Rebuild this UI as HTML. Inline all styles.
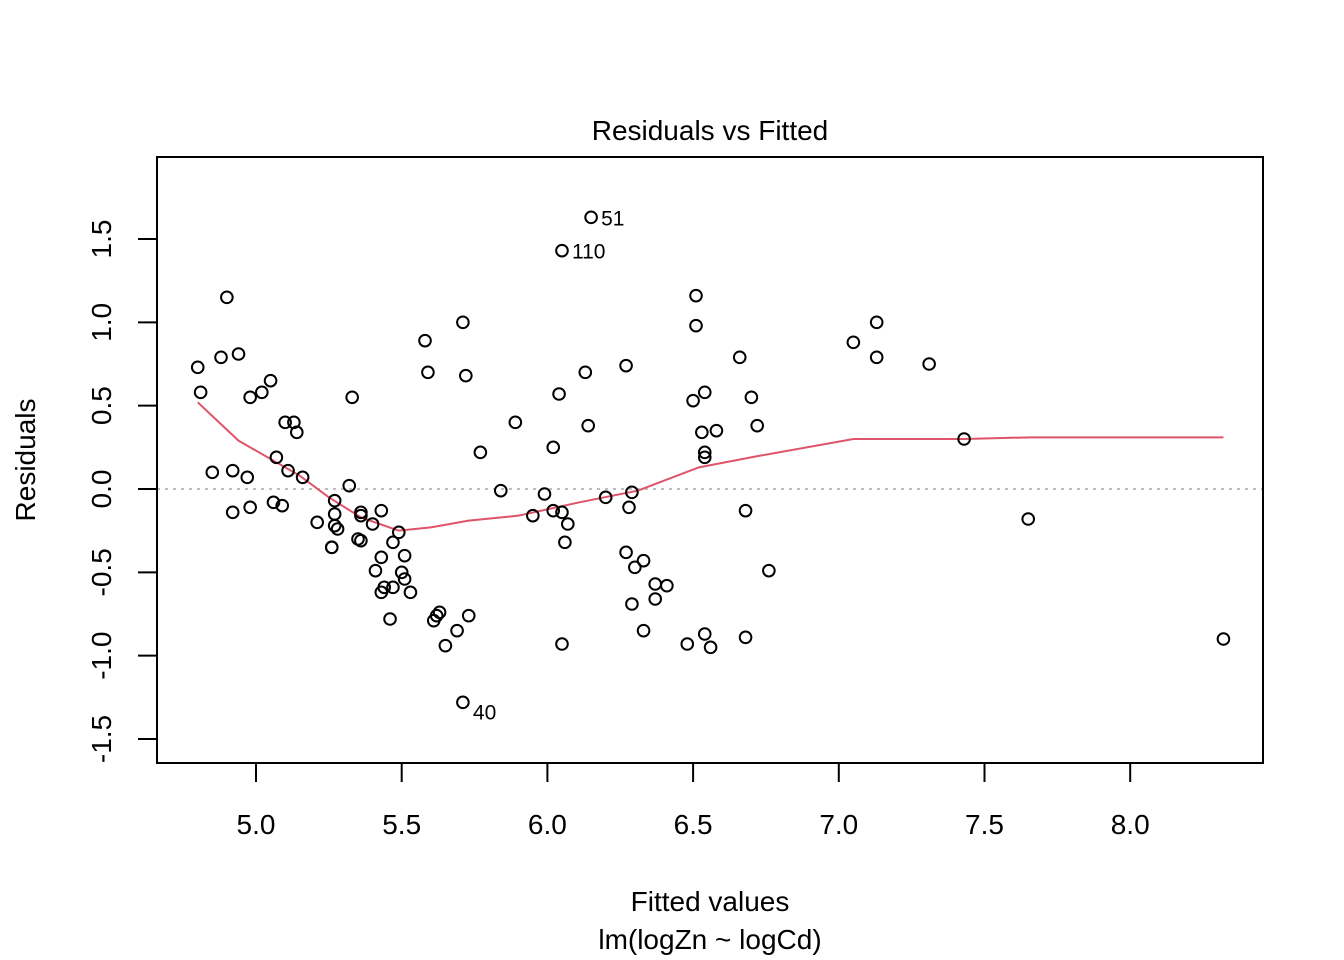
<!DOCTYPE html>
<html><head><meta charset="utf-8"><style>
html,body{margin:0;padding:0;background:#fff;}
svg{display:block;font-family:"Liberation Sans",Arial,sans-serif;}
</style></head><body>
<svg id="chart" width="1344" height="960" viewBox="0 0 1344 960" xmlns="http://www.w3.org/2000/svg">
<rect width="1344" height="960" fill="#fff"/>
<text x="710" y="140" font-size="28" text-anchor="middle">Residuals vs Fitted</text>
<text x="710" y="911" font-size="28" text-anchor="middle">Fitted values</text>
<text x="710" y="949" font-size="28" text-anchor="middle">lm(logZn ~ logCd)</text>
<text transform="translate(35,460) rotate(-90)" font-size="28" text-anchor="middle">Residuals</text>
<g id="xaxis"></g>
<g id="yaxis"></g>
<line id="zero" stroke="#bebebe" stroke-width="2" stroke-dasharray="3,5"/>
<polyline id="smooth" fill="none" stroke="#DF536B" stroke-width="2"/>
<g id="pts"></g>
<g id="labels"></g>
<rect x="157" y="157" width="1106" height="606" fill="none" stroke="#000" stroke-width="2"/>
</svg>
<script>
const fittedX = [4.80,4.81,4.90,4.88,4.94,4.85,4.92,4.92,4.97,4.98,4.98,5.02,5.05,5.06,5.07,5.09,5.10,5.11,5.13,5.14,5.16,5.21,5.26,5.26,5.27,5.27,5.27,5.28,5.32,5.33,5.35,5.36,5.36,5.36,5.40,5.41,5.43,5.43,5.43,5.44,5.46,5.47,5.47,5.49,5.50,5.51,5.51,5.53,5.58,5.59,5.61,5.62,5.63,5.65,5.69,5.71,5.72,5.73,5.77,5.71,5.84,5.89,5.95,5.99,6.02,6.02,6.04,6.05,6.05,6.05,6.06,6.07,6.13,6.14,6.15,6.20,6.27,6.27,6.28,6.29,6.29,6.30,6.33,6.33,6.37,6.37,6.41,6.48,6.50,6.51,6.51,6.53,6.54,6.54,6.54,6.54,6.56,6.58,6.66,6.68,6.68,6.70,6.72,6.76,7.05,7.13,7.13,7.31,7.43,7.65,8.32];
const residualY = [0.73,0.58,1.15,0.79,0.81,0.10,0.11,-0.14,0.07,0.55,-0.11,0.58,0.65,-0.08,0.19,-0.10,0.40,0.11,0.40,0.34,0.07,-0.20,-0.35,-0.35,-0.07,-0.15,-0.22,-0.24,0.02,0.55,-0.30,-0.31,-0.16,-0.14,-0.21,-0.49,-0.13,-0.41,-0.62,-0.59,-0.78,-0.59,-0.32,-0.26,-0.50,-0.54,-0.40,-0.62,0.89,0.70,-0.79,-0.76,-0.74,-0.94,-0.85,1.00,0.68,-0.76,0.22,-1.28,-0.01,0.40,-0.16,-0.03,0.25,-0.13,0.57,1.43,-0.93,-0.14,-0.32,-0.21,0.70,0.38,1.63,-0.05,-0.38,0.74,-0.11,-0.02,-0.69,-0.47,-0.43,-0.85,-0.57,-0.66,-0.58,-0.93,0.53,1.16,0.98,0.34,0.58,-0.87,0.22,0.19,-0.95,0.35,0.79,-0.89,-0.13,0.55,0.38,-0.49,0.88,1.00,0.79,0.75,0.30,-0.18,-0.90];
const smoothX = [4.80,4.94,5.15,5.25,5.36,5.49,5.60,5.73,5.90,6.11,6.31,6.52,6.73,7.05,7.43,7.66,8.32];
const smoothY = [0.52,0.29,0.08,-0.05,-0.17,-0.25,-0.23,-0.19,-0.16,-0.08,-0.01,0.13,0.20,0.30,0.30,0.31,0.31];
const xTicks = ["5.0","5.5","6.0","6.5","7.0","7.5","8.0"];
const yTicks = ["-1.5","-1.0","-0.5","0.0","0.5","1.0","1.5"];
const labelNames = ["51","110","40"];
const labelX = [6.15,6.05,5.71];
const labelY = [1.63,1.43,-1.28];

const NS="http://www.w3.org/2000/svg";
function sx(v){return 256+(v-5)*291.4;}
function sy(v){return 489-v*166.67;}
function mk(tag,attrs,parent){const e=document.createElementNS(NS,tag);for(const k in attrs)e.setAttribute(k,attrs[k]);parent.appendChild(e);return e;}

const xa=document.getElementById('xaxis');
mk('line',{x1:sx(5),x2:sx(8),y1:763,y2:763,stroke:'#000','stroke-width':2},xa);
xTicks.forEach(t=>{const v=parseFloat(t);
  const l=mk('line',{x1:sx(v),x2:sx(v),y1:763,y2:782,stroke:'#000','stroke-width':2},xa);
  
  
  const tx=mk('text',{x:sx(v),y:834,'font-size':28,'text-anchor':'middle'},xa);tx.textContent=t;
  
  
});
const ya=document.getElementById('yaxis');
mk('line',{x1:157,x2:157,y1:sy(-1.5),y2:sy(1.5),stroke:'#000','stroke-width':2},ya);
yTicks.forEach(t=>{const v=parseFloat(t);
  const l=mk('line',{x1:138,x2:157,y1:sy(v),y2:sy(v),stroke:'#000','stroke-width':2},ya);
  
  
  const tx=mk('text',{transform:`translate(111,${sy(v)}) rotate(-90)`,'font-size':28,'text-anchor':'middle'},ya);tx.textContent=t;
  
  
});
const z=document.getElementById('zero');
z.setAttribute('x1',157);z.setAttribute('x2',1263);z.setAttribute('y1',sy(0));z.setAttribute('y2',sy(0));
document.getElementById('smooth').setAttribute('points',smoothX.map((x,i)=>sx(x)+','+sy(smoothY[i])).join(' '));
const pg=document.getElementById('pts');
fittedX.forEach((x,i)=>{
  const c=mk('circle',{cx:sx(x),cy:sy(residualY[i]),r:5.8,fill:'none',stroke:'#000','stroke-width':2},pg);
  
  
});
const lg=document.getElementById('labels');
labelNames.forEach((n,i)=>{
  const t=mk('text',{x:sx(labelX[i])+10,y:sy(labelY[i])+8,'font-size':21},lg);t.textContent=n;
  if(n==="40"){t.setAttribute('y',sy(labelY[i])+17);}
  
  
});
</script>
</body></html>
